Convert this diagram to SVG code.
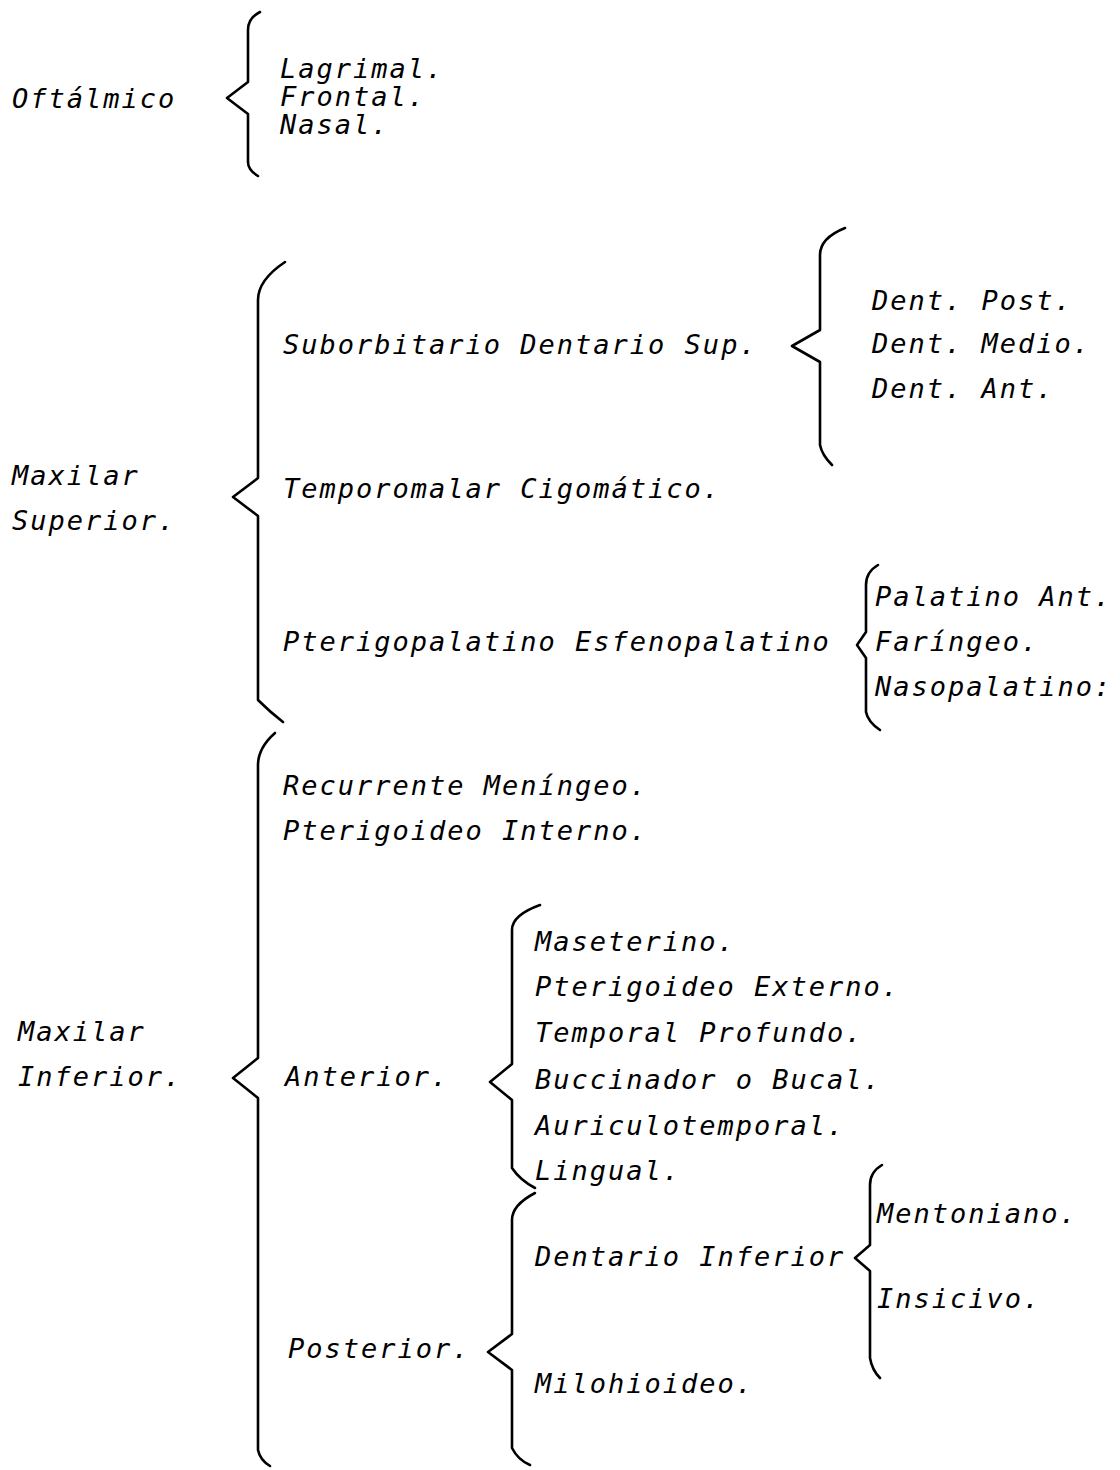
<svg xmlns="http://www.w3.org/2000/svg" width="1120" height="1470" viewBox="0 0 1120 1470">
<style>
text{font-family:"DejaVu Sans Mono","Liberation Mono",monospace;font-style:italic;font-size:27px;letter-spacing:2px;fill:#000}
.br{fill:none;stroke:#000;stroke-width:2.6;stroke-linecap:round;stroke-linejoin:round}
</style>
<rect width="1120" height="1470" fill="#fff"/>
<g id="connectors">
<path class="br" d="M260,12 Q248,18 248,30 L248,82 L227,98 L248,114 L248,162 Q248,170 258,176"/>
<path class="br" d="M285,262 Q258,280 258,300 L258,478 L233,497 L258,516 L258,700 Q270,712 283,722"/>
<path class="br" d="M275,733 Q258,748 258,765 L258,1058 L233,1078 L258,1098 L258,1450 Q260,1460 270,1466"/>
<path class="br" d="M845,228 Q820,238 820,255 L820,330 L792,346 L820,362 L820,445 Q822,455 832,465"/>
<path class="br" d="M878,565 Q866,572 866,585 L866,632 L857,645 L866,658 L866,712 Q868,722 880,730"/>
<path class="br" d="M540,905 Q512,915 512,930 L512,1064 L490,1082 L512,1100 L512,1168 Q520,1180 535,1188"/>
<path class="br" d="M535,1193 Q512,1205 512,1220 L512,1334 L488,1352 L512,1370 L512,1448 Q518,1460 530,1465"/>
<path class="br" d="M882,1165 Q870,1172 870,1185 L870,1245 L855,1258 L870,1271 L870,1358 Q872,1370 880,1378"/>
</g>
<g id="oftalmico"><text x="12" y="108">Oftálmico</text></g>
<g id="oftalmico-ramas">
<text x="280" y="78">Lagrimal.</text>
<text x="280" y="106">Frontal.</text>
<text x="280" y="134">Nasal.</text>
</g>
<g id="maxilar-superior"><text x="12" y="485">Maxilar</text><text x="12" y="530">Superior.</text></g>
<g id="suborbitario"><text x="283" y="354">Suborbitario Dentario Sup.</text></g>
<g id="dentarios">
<text x="872" y="310">Dent. Post.</text>
<text x="872" y="353">Dent. Medio.</text>
<text x="872" y="398">Dent. Ant.</text>
</g>
<g id="temporomalar"><text x="283" y="498">Temporomalar Cigomático.</text></g>
<g id="pterigopalatino"><text x="283" y="651">Pterigopalatino Esfenopalatino</text></g>
<g id="pterigopalatino-ramas">
<text x="875" y="606">Palatino Ant.</text>
<text x="875" y="651">Faríngeo.</text>
<text x="875" y="696">Nasopalatino:</text>
</g>
<g id="maxilar-inferior"><text x="18" y="1041">Maxilar</text><text x="18" y="1086">Inferior.</text></g>
<g id="recurrente"><text x="283" y="795">Recurrente Meníngeo.</text></g>
<g id="pterigoideo-interno"><text x="283" y="840">Pterigoideo Interno.</text></g>
<g id="anterior"><text x="285" y="1086">Anterior.</text></g>
<g id="anterior-ramas">
<text x="535" y="951">Maseterino.</text>
<text x="535" y="996">Pterigoideo Externo.</text>
<text x="535" y="1042">Temporal Profundo.</text>
<text x="535" y="1089">Buccinador o Bucal.</text>
<text x="535" y="1135">Auriculotemporal.</text>
<text x="535" y="1180">Lingual.</text>
</g>
<g id="posterior"><text x="288" y="1358">Posterior.</text></g>
<g id="dentario-inferior"><text x="535" y="1266">Dentario Inferior</text></g>
<g id="milohioideo"><text x="535" y="1393">Milohioideo.</text></g>
<g id="dentario-inferior-ramas">
<text x="877" y="1223">Mentoniano.</text>
<text x="877" y="1308">Insicivo.</text>
</g>
</svg>
